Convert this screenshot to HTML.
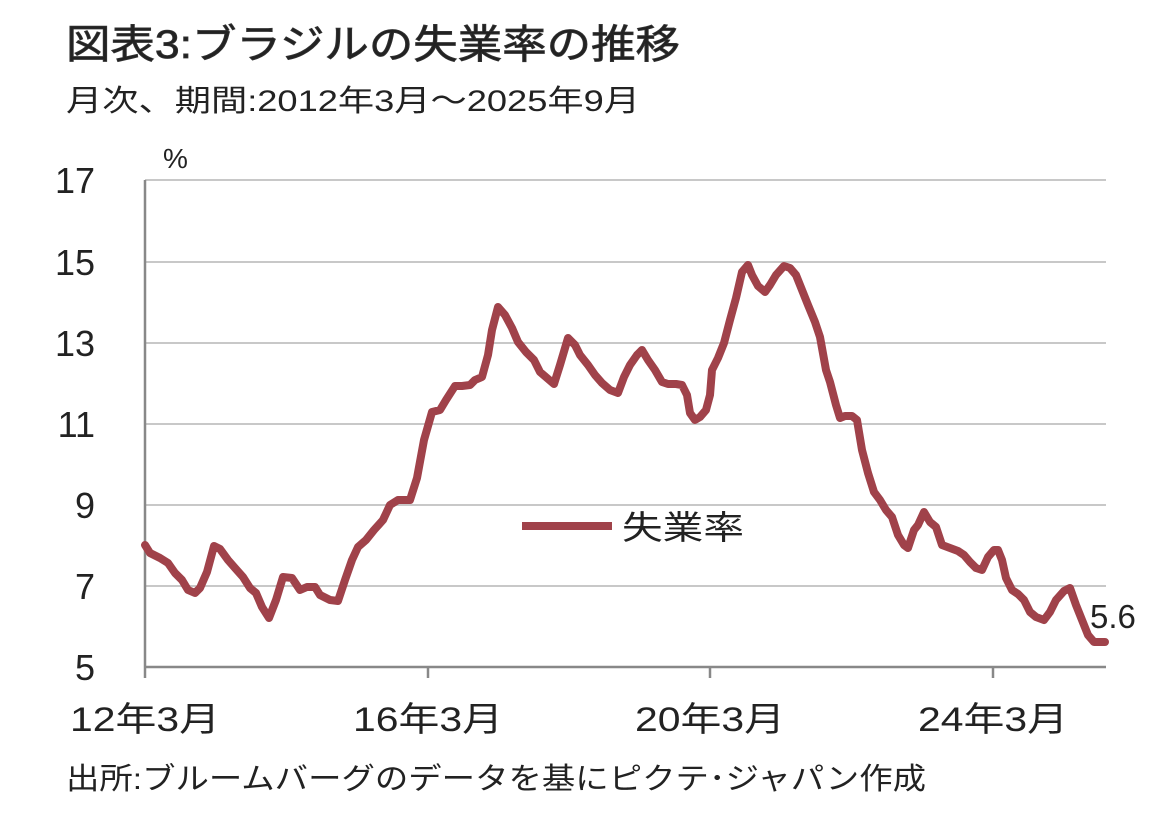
<!DOCTYPE html>
<html><head><meta charset="utf-8"><style>
html,body{margin:0;padding:0;background:#fff;}
svg text{font-family:"Liberation Sans","Noto Sans CJK JP",sans-serif;fill:#222;}
</style></head><body>
<svg width="1162" height="817" viewBox="0 0 1162 817" xmlns="http://www.w3.org/2000/svg">
<text x="66" y="58" font-size="40" fill="#333" stroke="#333" stroke-width="0.8" textLength="614" lengthAdjust="spacingAndGlyphs">図表3:ブラジルの失業率の推移</text>
<text x="66" y="111" font-size="30" textLength="574" lengthAdjust="spacingAndGlyphs">月次、期間:2012年3月～2025年9月</text>
<text x="163" y="168" font-size="28">%</text>
<g stroke="#c8c8c8" stroke-width="2">
<line x1="145" y1="180" x2="1106" y2="180"/>
<line x1="145" y1="262" x2="1106" y2="262"/>
<line x1="145" y1="343" x2="1106" y2="343"/>
<line x1="145" y1="424" x2="1106" y2="424"/>
<line x1="145" y1="505" x2="1106" y2="505"/>
<line x1="145" y1="586" x2="1106" y2="586"/>
</g>
<g stroke="#888" stroke-width="2.5">
<line x1="145" y1="180" x2="145" y2="667"/>
<line x1="145" y1="667" x2="1106" y2="667"/>
<line x1="145" y1="667" x2="145" y2="678"/>
<line x1="428" y1="667" x2="428" y2="678"/>
<line x1="710" y1="667" x2="710" y2="678"/>
<line x1="993" y1="667" x2="993" y2="678"/>
</g>
<g font-size="36" text-anchor="end">
<text x="95" y="193">17</text><text x="95" y="275">15</text><text x="95" y="356">13</text>
<text x="95" y="437">11</text><text x="95" y="518">9</text><text x="95" y="599">7</text><text x="95" y="680">5</text>
</g>
<g font-size="34">
<text x="70" y="731" textLength="150" lengthAdjust="spacingAndGlyphs">12年3月</text>
<text x="353" y="731" textLength="150" lengthAdjust="spacingAndGlyphs">16年3月</text>
<text x="635" y="731" textLength="150" lengthAdjust="spacingAndGlyphs">20年3月</text>
<text x="918" y="731" textLength="150" lengthAdjust="spacingAndGlyphs">24年3月</text>
</g>
<polyline fill="none" stroke="#a0424a" stroke-width="8" stroke-linejoin="round" stroke-linecap="round" points="145,545 150,553 160,558 168,563 175,573 182,580 188,590 195,593 200,588 207,572 214,546 220,549 228,560 235,568 243,577 250,588 256,593 262,607 269,618 276,600 283,577 292,578 300,590 307,587 315,587 320,595 330,600 338,601 345,580 352,560 358,547 366,540 374,530 383,520 390,505 398,500 404,500 410,500 417,478 424,440 432,412 440,410 446,400 455,386 462,386 470,385 475,380 482,377 488,355 492,330 498,307 505,315 512,328 518,342 526,352 534,360 540,372 547,378 554,384 560,365 568,338 575,345 580,355 588,365 595,375 602,383 610,390 618,393 624,377 630,365 637,355 642,350 648,360 655,370 662,382 668,384 676,384 682,385 687,395 690,413 695,420 700,417 706,410 710,395 712,370 718,358 724,343 730,320 736,298 742,272 748,265 752,275 758,286 765,292 770,285 776,275 784,266 790,268 796,275 802,290 808,305 815,322 820,337 826,370 830,382 836,405 840,418 845,416 852,416 857,420 862,450 868,473 874,492 880,500 886,510 892,517 898,535 904,545 908,548 914,530 918,525 924,512 930,522 936,527 942,545 950,548 958,551 964,555 970,562 976,568 982,570 988,557 994,550 998,550 1002,560 1006,578 1012,590 1018,594 1024,600 1030,612 1036,617 1044,620 1050,612 1056,600 1064,591 1070,588 1076,605 1082,620 1088,635 1094,642 1105,642"/>
<line x1="522" y1="526" x2="612" y2="526" stroke="#a0424a" stroke-width="8"/>
<text x="622" y="539" font-size="33" textLength="122" lengthAdjust="spacingAndGlyphs">失業率</text>
<text x="1090" y="628" font-size="33">5.6</text>
<text x="66" y="789" font-size="30" textLength="860" lengthAdjust="spacingAndGlyphs">出所:ブルームバーグのデータを基にピクテ･ジャパン作成</text>
</svg>
</body></html>
